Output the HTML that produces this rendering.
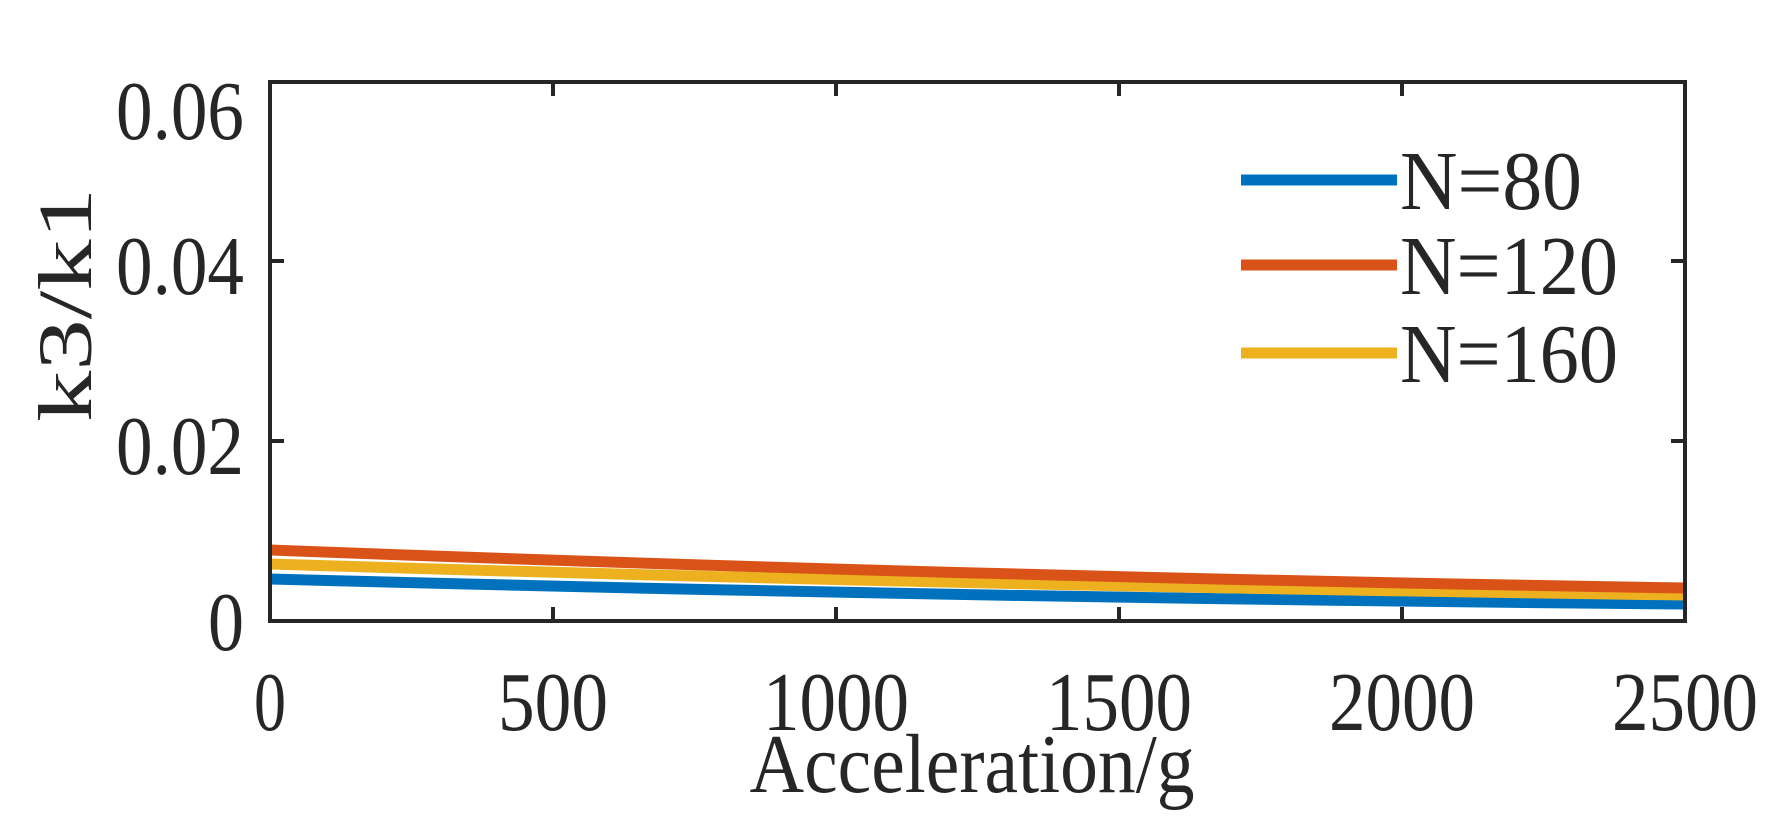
<!DOCTYPE html>
<html><head><meta charset="utf-8"><style>html,body{margin:0;padding:0;background:#fff}svg{display:block}</style></head>
<body>
<svg width="1787" height="828" viewBox="0 0 1787 828" xmlns="http://www.w3.org/2000/svg" font-family="Liberation Serif, serif" fill="#262626">
<defs><clipPath id="c"><rect x="270" y="82" width="1415" height="539"/></clipPath></defs>
<g clip-path="url(#c)" fill="none" stroke-width="11">
<path d="M270,579 Q977,598 1685,604" stroke="#0072BD"/>
<path d="M270,564 Q977,586 1685,595" stroke="#EDB120"/>
<path d="M270,550 Q977,577 1685,588" stroke="#D95319"/>
</g>
<g stroke="#262626" stroke-width="4" fill="none">
<rect x="270" y="82" width="1415" height="539"/>
<path d="M553,621v-14M836,621v-14M1119,621v-14M1402,621v-14M553,82v14M836,82v14M1119,82v14M1402,82v14M270,441h14M270,261h14M1685,441h-14M1685,261h-14"/>
</g>
<g font-size="84" text-anchor="middle" lengthAdjust="spacingAndGlyphs">
<text x="270" y="730" textLength="32" lengthAdjust="spacingAndGlyphs">0</text>
<text x="553" y="730" textLength="110" lengthAdjust="spacingAndGlyphs">500</text>
<text x="836" y="730" textLength="146" lengthAdjust="spacingAndGlyphs">1000</text>
<text x="1119" y="730" textLength="146" lengthAdjust="spacingAndGlyphs">1500</text>
<text x="1402" y="730" textLength="146" lengthAdjust="spacingAndGlyphs">2000</text>
<text x="1685" y="730" textLength="146" lengthAdjust="spacingAndGlyphs">2500</text>
</g>
<g font-size="84" text-anchor="end">
<text x="244" y="139" textLength="128" lengthAdjust="spacingAndGlyphs">0.06</text>
<text x="244" y="294" textLength="128" lengthAdjust="spacingAndGlyphs">0.04</text>
<text x="244" y="474" textLength="128" lengthAdjust="spacingAndGlyphs">0.02</text>
<text x="244" y="650" textLength="36" lengthAdjust="spacingAndGlyphs">0</text>
</g>
<text x="972" y="792" font-size="84" text-anchor="middle" textLength="445" lengthAdjust="spacingAndGlyphs">Acceleration/g</text>
<text transform="translate(91,305) rotate(-90)" font-size="76" text-anchor="middle" textLength="234" lengthAdjust="spacingAndGlyphs">k3/k1</text>
<g stroke-width="11">
<line x1="1241" y1="180" x2="1397" y2="180" stroke="#0072BD"/>
<line x1="1241" y1="265" x2="1397" y2="265" stroke="#D95319"/>
<line x1="1241" y1="353" x2="1397" y2="353" stroke="#EDB120"/>
</g>
<g font-size="84">
<text x="1400" y="209" textLength="182" lengthAdjust="spacingAndGlyphs">N=80</text>
<text x="1400" y="294" textLength="218" lengthAdjust="spacingAndGlyphs">N=120</text>
<text x="1400" y="382" textLength="218" lengthAdjust="spacingAndGlyphs">N=160</text>
</g>
</svg>
</body></html>
